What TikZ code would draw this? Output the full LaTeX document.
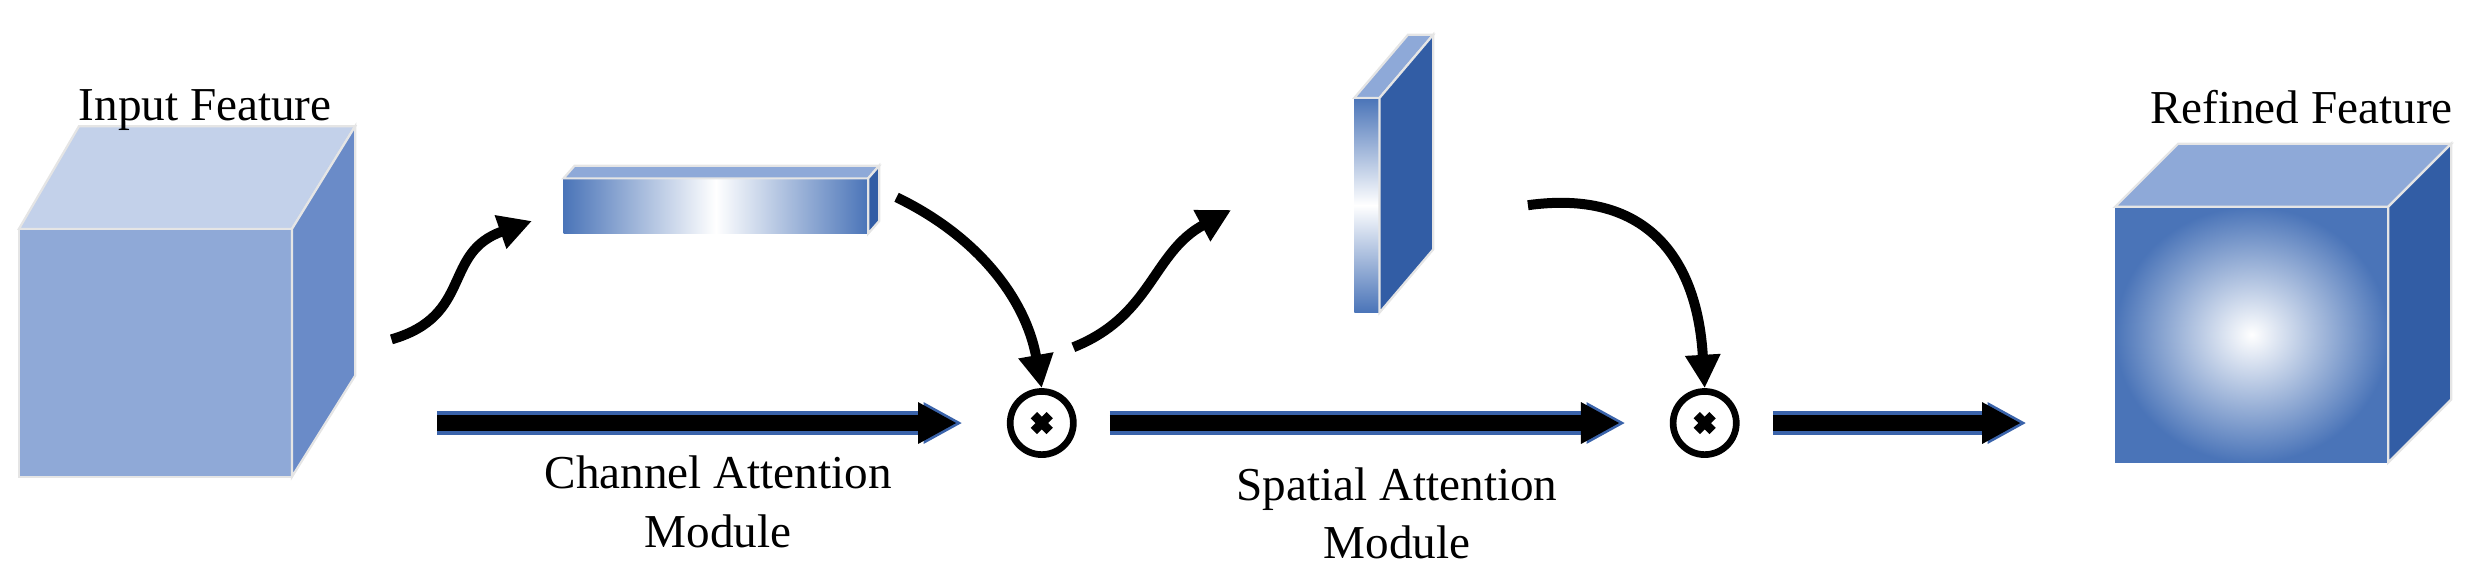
\documentclass[tikz,border=0pt]{standalone}
\usepackage{fontspec}
\setmainfont{Liberation Serif}
\usetikzlibrary{arrows.meta}
\definecolor{cubeFront}{HTML}{8FA9D7}
\definecolor{cubeTop}{HTML}{C3D1EA}
\definecolor{cubeSide}{HTML}{6A8BC8}
\definecolor{barTop}{HTML}{8EA9D8}
\definecolor{barSide}{HTML}{325DA5}
\definecolor{barEdge}{HTML}{4A74B8}
\definecolor{flowEdge}{HTML}{3A63AA}
\tikzset{
    face/.style={draw=white!80!gray, line width=0.4pt},
    label/.style={font=\fontsize{8.5}{10.5}\selectfont, align=center},
    flow/.style={line width=3pt, -{Triangle[length=7pt,width=7pt]}},
    curl/.style={line width=1.8pt, -{Triangle[length=6pt,width=6pt]}},
    mult/.style={circle, draw, line width=1.2pt, minimum size=0.4cm, inner sep=0pt,
        path picture={\draw[line width=1.6pt] ([shift={(-5,5)}]path picture bounding box.center) -- ++(10,-10)
            ([shift={(-5,-5)}]path picture bounding box.center) -- ++(10,10);}}
}
\begin{document}
\begin{tikzpicture}[x=0.01cm, y=-0.01cm]
    \useasboundingbox (0,0) rectangle (1568,369);
    % Input feature cube
    \fill[cubeFront, face] (12,145) rectangle (185,302);
    \fill[cubeTop, face] (12,145) -- (50,80) -- (225,80) -- (185,145) -- cycle;
    \fill[cubeSide, face] (185,145) -- (225,80) -- (225,238) -- (185,302) -- cycle;
    \node[label] (inlab) at (130,70) {Input Feature};
    % Channel attention bar
    \shade[left color=barEdge, right color=barEdge, middle color=white] (357,113) rectangle (550,148);
    \fill[barTop, face] (357,113) -- (364,105) -- (557,105) -- (550,113) -- cycle;
    \fill[barSide, face] (550,113) -- (557,105) -- (557,140) -- (550,148) -- cycle;
    % Spatial attention bar
    \shade[top color=barEdge, bottom color=barEdge, middle color=white] (858,62) rectangle (874,198);
    \fill[barTop, face] (858,62) -- (874,62) -- (908,22) -- (892,22) -- cycle;
    \fill[barSide, face] (874,62) -- (908,22) -- (908,158) -- (874,198) -- cycle;
    % Refined feature cube
    \shade[inner color=white, outer color=barEdge] (1340,131) rectangle (1513,293);
    \fill[barTop, face] (1340,131) -- (1380,91) -- (1553,91) -- (1513,131) -- cycle;
    \fill[barSide, face] (1513,131) -- (1553,91) -- (1553,253) -- (1513,293) -- cycle;
    \node[label] (outlab) at (1458,68) {Refined Feature};
    % Multiplication nodes
    \node[mult] (m1) at (660,268) {};
    \node[mult] (m2) at (1080,268) {};
    \coordinate (start) at (256,268);
    \coordinate (finish) at (1312,268);
    % Main flow
    \foreach \a/\b in {start/m1, m1/m2, m2/finish} {
        \draw[flow, draw=flowEdge, fill=flowEdge, line width=4.2pt] ([xshift=6]\a.east) -- ([xshift=-8]\b.west);
        \draw[flow] ([xshift=6]\a.east) -- ([xshift=-9]\b.west);
    }
    \node[label] (calab) at (455,318) {Channel Attention\\Module};
    \node[label] (salab) at (885,325) {Spatial Attention\\Module};
    % Attention branches
    \coordinate (c1a) at (248,215);
    \coordinate (c1b) at (337,140);
    \coordinate (c2a) at (568,125);
    \coordinate (c3a) at (680,220);
    \coordinate (c3b) at (780,133);
    \coordinate (c4a) at (968,130);
    \draw[curl] (c1a) .. controls (300,200) and (280,160) .. (c1b);
    \draw[curl] (c2a) .. controls (620,150) and (650,190) .. (m1.north);
    \draw[curl] (c3a) .. controls (730,200) and (730,160) .. (c3b);
    \draw[curl] (c4a) .. controls (1040,120) and (1075,160) .. (m2.north);
\end{tikzpicture}
\end{document}
